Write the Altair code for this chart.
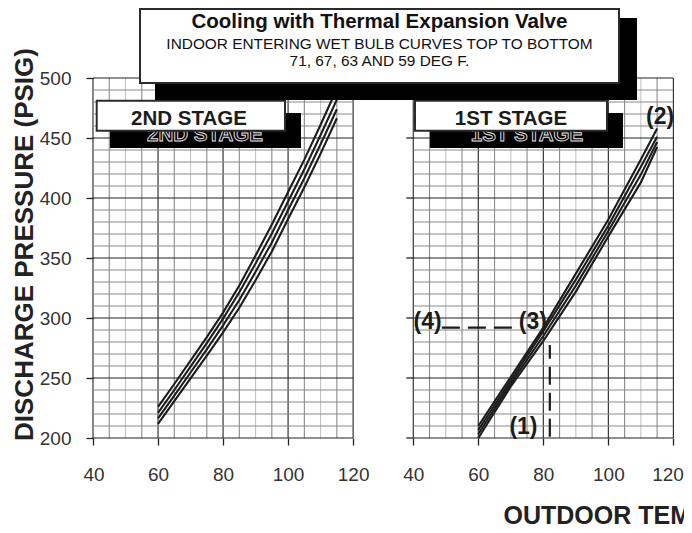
import altair as alt
import pandas as pd

# ---------------- data ----------------
wet_bulbs = ["71", "67", "63", "59"]

# 2ND STAGE (left panel)
stage2_temps = [60, 65, 70, 75, 80, 85, 90, 95, 100, 105, 110, 115]
stage2_wb71 = [226, 245, 264.5, 284, 304.5, 327, 352, 378, 405, 432, 461, 491]
stage2_wb67 = [221, 240, 259.5, 279, 299.5, 321.5, 345.5, 370.5, 397, 424, 452.5, 482]
stage2_wb63 = [216.4, 235.3, 254.6, 273.8, 293.8, 315, 338.5, 363, 390, 416.5, 444.8, 474]
stage2_wb59 = [211.7, 230.7, 249.7, 268.7, 288, 308.5, 331.5, 355.5, 382.5, 409, 437, 466.5]

# 1ST STAGE (right panel)
stage1_temps = [60, 70, 80, 90, 100, 110, 115]
stage1_wb71 = [210, 251, 292, 337, 382, 432, 458]
stage1_wb67 = [206.7, 248, 289, 332, 377, 426, 451]
stage1_wb63 = [203.3, 245.5, 285, 327, 372.5, 419.5, 446.7]
stage1_wb59 = [200, 243, 281, 322, 368, 413, 442.5]

x_ticks = [40, 60, 80, 100, 120]
y_ticks = [200, 250, 300, 350, 400, 450, 500]

# example reading on the 1ST STAGE panel
marker_labels = ["(1)", "(2)", "(3)", "(4)"]
marker_temps = [73.9, 115.9, 76.8, 44.4]
marker_psig = [203.3, 461.7, 290.8, 290.8]
hdash_temps = [48.8, 70.7]
hdash_psig = [292, 292]
vdash_temps = [82, 82]
vdash_psig = [201, 277.5]

title_lines = ["Cooling with Thermal Expansion Valve",
               "INDOOR ENTERING WET BULB CURVES TOP TO BOTTOM",
               "71, 67, 63 AND 59 DEG F."]
stage_names = ["2ND STAGE", "1ST STAGE"]

# ---------------- layout ----------------
SHIFT = 98.5          # horizontal offset of the right panel in the shared scale
FONT = "Liberation Sans"
xscale = alt.Scale(domain=[40, 219], nice=False, zero=False)
yscale = alt.Scale(domain=[200, 500], nice=False, zero=False)

rows = []
for wb, vals in zip(wet_bulbs, [stage2_wb71, stage2_wb67, stage2_wb63, stage2_wb59]):
    for t, p in zip(stage2_temps, vals):
        rows.append({"panel": 0, "wb": wb, "temp": t, "psig": p})
for wb, vals in zip(wet_bulbs, [stage1_wb71, stage1_wb67, stage1_wb63, stage1_wb59]):
    for t, p in zip(stage1_temps, vals):
        rows.append({"panel": 1, "wb": wb, "temp": t, "psig": p})
curves = pd.DataFrame(rows)
curves["key"] = curves["panel"].astype(str) + "_" + curves["wb"]

# grid
vrows, hrows = [], []
for panel in (0, 1):
    for t in range(40, 121, 5):
        kind = 2 if t % 20 == 0 else (0 if t % 10 == 0 else 1)
        vrows.append({"panel": panel, "temp": t, "kind": kind, "p0": 200, "p1": 500})
    for p in range(200, 501, 10):
        kind = 2 if p % 50 == 0 else 1
        hrows.append({"panel": panel, "psig": p, "kind": kind, "t0": 40, "t1": 120})
vgrid = pd.DataFrame(vrows).sort_values("kind")
hgrid = pd.DataFrame(hrows).sort_values("kind")

shift_expr = f"datum.temp + datum.panel * {SHIFT}"

kind_color = alt.Scale(domain=[0, 1, 2], range=["#c4c4c4", "#8a8a8a", "#222222"])
kind_width = alt.Scale(domain=[0, 1, 2], range=[1.1, 1.1, 1.4])

x_axis = alt.Axis(
    values=x_ticks + [t + SHIFT for t in x_ticks],
    labelExpr=f"datum.value > 130 ? format(datum.value - {SHIFT}, 'd') : format(datum.value, 'd')",
    domain=False, grid=False, tickSize=7, tickColor="#222", tickWidth=1.3,
    labelFont=FONT, labelFontSize=19, labelColor="#333", labelPadding=20,
    labelFlush=2, labelFlushOffset=10, labelOverlap=False,
    title="OUTDOOR TEMPERATURE (DEG F)", titleX=410, titleY=85,
    titleAlign="left", titleBaseline="alphabetic", titleFont=FONT,
    titleFontSize=25, titleFontWeight="bold", titleColor="#222",
)
y_axis = alt.Axis(
    values=y_ticks, domain=False, grid=False, tickSize=7, tickColor="#222",
    tickWidth=1.3, labelFont=FONT, labelFontSize=19, labelColor="#333",
    labelPadding=15,
    title="DISCHARGE PRESSURE (PSIG)", titleX=-61, titleY=166, titleAngle=270,
    titleAlign="center", titleBaseline="alphabetic", titleFont=FONT,
    titleFontSize=26, titleFontWeight="bold", titleColor="#222",
)


def X(field):
    return alt.X(field, scale=xscale, axis=x_axis)


def Y(field):
    return alt.Y(field, scale=yscale, axis=y_axis)


vlayer = alt.Chart(vgrid).transform_calculate(xu=shift_expr).mark_rule().encode(
    x=X("xu:Q"), y=Y("p0:Q"), y2="p1:Q",
    color=alt.Color("kind:O", scale=kind_color, legend=None),
    strokeWidth=alt.StrokeWidth("kind:O", scale=kind_width, legend=None),
)
hlayer = alt.Chart(hgrid).transform_calculate(
    x0=f"datum.t0 + datum.panel * {SHIFT}", x1=f"datum.t1 + datum.panel * {SHIFT}"
).mark_rule().encode(
    x=X("x0:Q"), x2="x1:Q", y=Y("psig:Q"),
    color=alt.Color("kind:O", scale=kind_color, legend=None),
    strokeWidth=alt.StrokeWidth("kind:O", scale=kind_width, legend=None),
)

# y ticks on the left edge of the right panel
rticks = pd.DataFrame({"psig": y_ticks})
rtick_layer = alt.Chart(rticks).transform_calculate(
    x0=f"{40 + SHIFT} - 2.15", x1=f"{40 + SHIFT}"
).mark_rule(color="#222", strokeWidth=1.3).encode(
    x=X("x0:Q"), x2="x1:Q", y=Y("psig:Q"),
)

curve_layer = alt.Chart(curves).transform_calculate(xu=shift_expr).mark_line(
    color="#1c1c1c", strokeWidth=2.1
).encode(
    x=X("xu:Q"), y=Y("psig:Q"), detail="key:N", order="temp:Q",
)

dash_df = pd.DataFrame({
    "seg": ["h", "h", "v", "v"],
    "temp": hdash_temps + vdash_temps,
    "psig": hdash_psig + vdash_psig,
})
dash_layer = alt.Chart(dash_df).transform_calculate(
    xu=f"datum.temp + {SHIFT}"
).mark_line(color="#1c1c1c", strokeWidth=2.2, strokeDash=[18, 8]).encode(
    x=X("xu:Q"), y=Y("psig:Q"), detail="seg:N",
)

marker_df = pd.DataFrame({"label": marker_labels, "temp": marker_temps, "psig": marker_psig})
marker_layer = alt.Chart(marker_df).transform_calculate(
    xu=f"datum.temp + {SHIFT}"
).mark_text(font=FONT, fontSize=23, fontWeight="bold", color="#1c1c1c",
            align="center", baseline="alphabetic").encode(
    x=X("xu:Q"), y=Y("psig:Q"), text="label:N",
)


# annotation boxes (positions in the shared scale units)
def box(x0, x1, y0, y1, fill, stroke=None):
    df = pd.DataFrame({"x0": [x0], "x1": [x1], "y0": [y0], "y1": [y1]})
    kw = dict(fill=fill)
    if stroke:
        kw.update(stroke=stroke, strokeWidth=2)
    else:
        kw.update(strokeWidth=0)
    return alt.Chart(df).mark_rect(**kw).encode(
        x=X("x0:Q"), x2="x1:Q", y=Y("y0:Q"), y2="y1:Q",
    )


def label(texts, xs, ys, size, weight, color="#111", stroke=None):
    df = pd.DataFrame({"t": texts, "x": xs, "y": ys})
    kw = dict(font=FONT, fontSize=size, fontWeight=weight, color=color,
              align="center", baseline="alphabetic")
    if stroke:
        kw.update(stroke=stroke, strokeWidth=0.9)
    return alt.Chart(df).mark_text(**kw).encode(
        x=X("x:Q"), y=Y("y:Q"), text="t:N",
    )


stage_layers = [
    box(45.23, 103.97, 441.67, 470.83, "black"),
    box(143.65, 203.0, 441.67, 470.83, "black"),
    label(stage_names, [74.45, 173.48], [447.5, 447.5], 20.5, "bold", color="black", stroke="#e8e8e8"),
    box(41.14, 99.05, 456.08, 481.08, "white", "#2a2a2a"),
    box(139.03, 198.08, 456.08, 481.08, "white", "#2a2a2a"),
    label(stage_names, [69.53, 168.56], [460.83, 460.83], 20.5, "bold", color="#1c1c1c"),
]

title_layers = [
    box(59.07, 207.31, 481.67, 550.0, "black"),
    box(54.46, 201.78, 495.83, 557.5, "white", "#2a2a2a"),
    label(title_lines[:1], [128.1], [541.4], 20.5, "bold"),
    label(title_lines[1:], [128.1, 128.1], [523.9, 510.25], 15.4, "normal"),
]

chart = alt.layer(
    vlayer, hlayer, rtick_layer, curve_layer, dash_layer, marker_layer,
    *stage_layers, *title_layers,
).properties(
    width=582, height=360,
    autosize=alt.AutoSizeParams(type="none"),
    padding={"left": 85, "top": 70, "right": 9, "bottom": 87},
    background="white",
).configure_view(stroke=None)

chart.save("out.html", embed_options={"renderer": "svg", "actions": False})
